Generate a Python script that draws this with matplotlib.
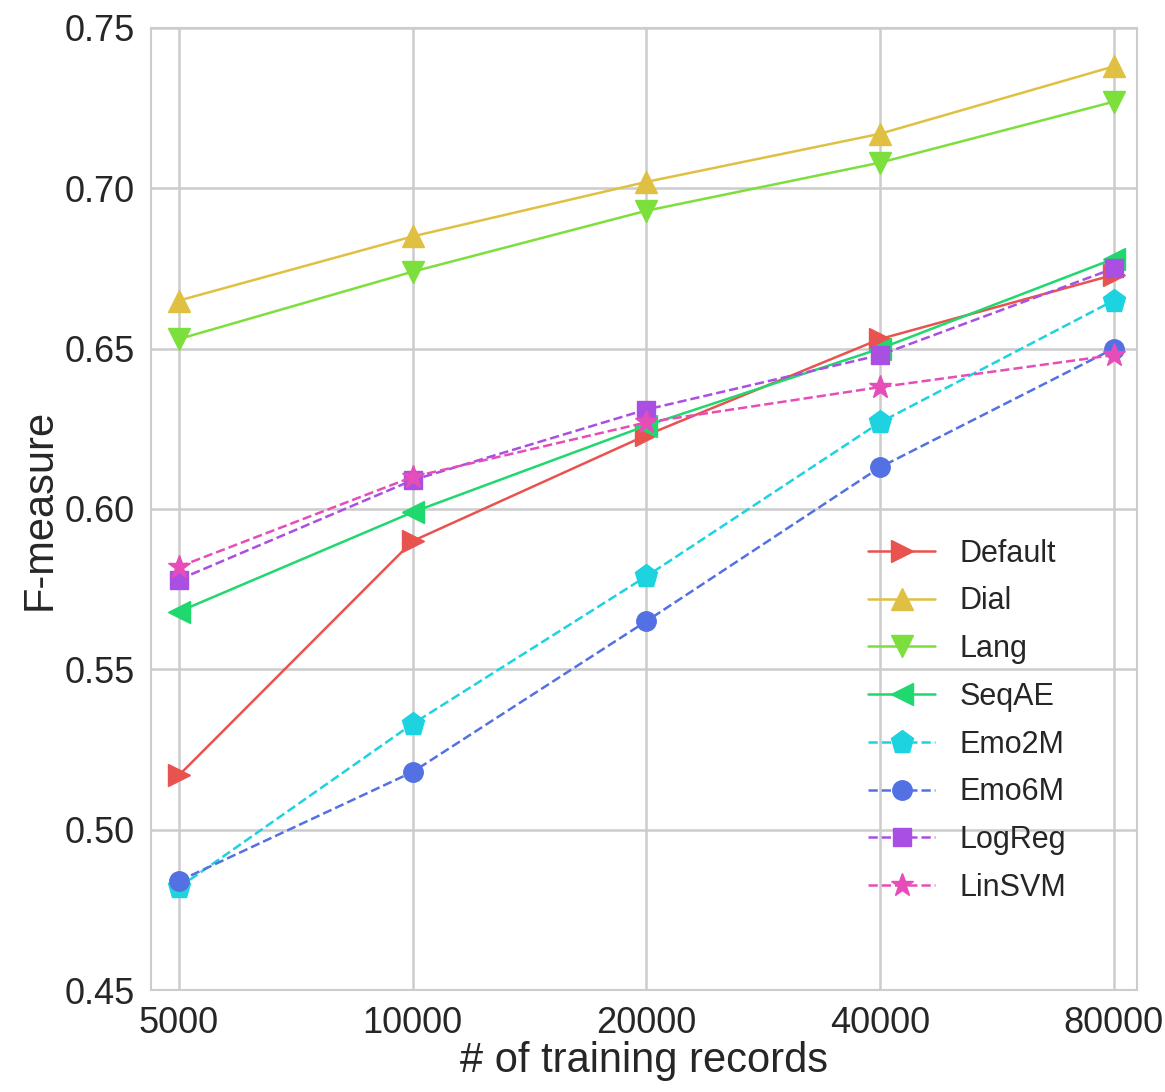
import matplotlib
matplotlib.use('Agg')
import matplotlib.pyplot as plt
import seaborn as sns

sns.set_style("whitegrid")
plt.rcParams['font.family'] = ['Liberation Sans', 'DejaVu Sans']

sizes = ['5000', '10000', '20000', '40000', '80000']
names = ['Default', 'Dial', 'Lang', 'SeqAE', 'Emo2M', 'Emo6M', 'LogReg', 'LinSVM']

default = [0.517, 0.590, 0.623, 0.653, 0.673]
dial = [0.665, 0.685, 0.702, 0.717, 0.738]
lang = [0.653, 0.674, 0.693, 0.708, 0.727]
seqae = [0.568, 0.599, 0.626, 0.650, 0.678]
emo2m = [0.482, 0.533, 0.579, 0.627, 0.665]
emo6m = [0.484, 0.518, 0.565, 0.613, 0.650]
logreg = [0.578, 0.609, 0.631, 0.648, 0.675]
linsvm = [0.582, 0.610, 0.627, 0.638, 0.648]

series = [default, dial, lang, seqae, emo2m, emo6m, logreg, linsvm]
markers = ['>', '^', 'v', '<', 'p', 'o', 's', '*']
styles = ['-', '-', '-', '-', '--', '--', '--', '--']
msize = [16, 16, 16, 16, 17, 14, 13, 17]
# close to an hls palette but more saturated
colors = ['#e9534f', '#e0c043', '#7ddf3c', '#1fd86e', '#1dd3e0',
          '#5371e3', '#a94fe2', '#e64db8']

fig = plt.figure(figsize=(11.65, 10.92), dpi=100)
ax = fig.add_subplot(111)
fig.subplots_adjust(left=0.1296, right=0.976, top=0.9744, bottom=0.0934)

x = list(range(len(sizes)))
for vals, name, m, ls, ms, c in zip(series, names, markers, styles, msize, colors):
    ax.plot(x, vals, linestyle=ls, marker=m, markersize=ms, color=c,
            linewidth=1.8, label=name)

ax.set_xticks(x)
ax.set_xticklabels(sizes)
ax.set_xlim(-0.12, 4.1)
ax.set_ylim(0.45, 0.75)
ax.set_yticks([0.45, 0.50, 0.55, 0.60, 0.65, 0.70, 0.75])
ax.set_yticklabels(['%.2f' % v for v in ax.get_yticks()])
ax.tick_params(labelsize=26, colors='.15', pad=8)
ax.set_xlabel('# of training records', fontsize=30, color='.15', labelpad=0)
ax.set_ylabel('F-measure', fontsize=30, color='.15', labelpad=4)
for s in ax.spines.values():
    s.set_color('.8')
    s.set_linewidth(1.5)
ax.grid(color='.8', linewidth=1.8)

ax.legend(loc='lower right', bbox_to_anchor=(0.941, 0.078), borderaxespad=0,
          fontsize=22, frameon=False, labelspacing=0.58, handlelength=2.2)

plt.savefig('out.png')
